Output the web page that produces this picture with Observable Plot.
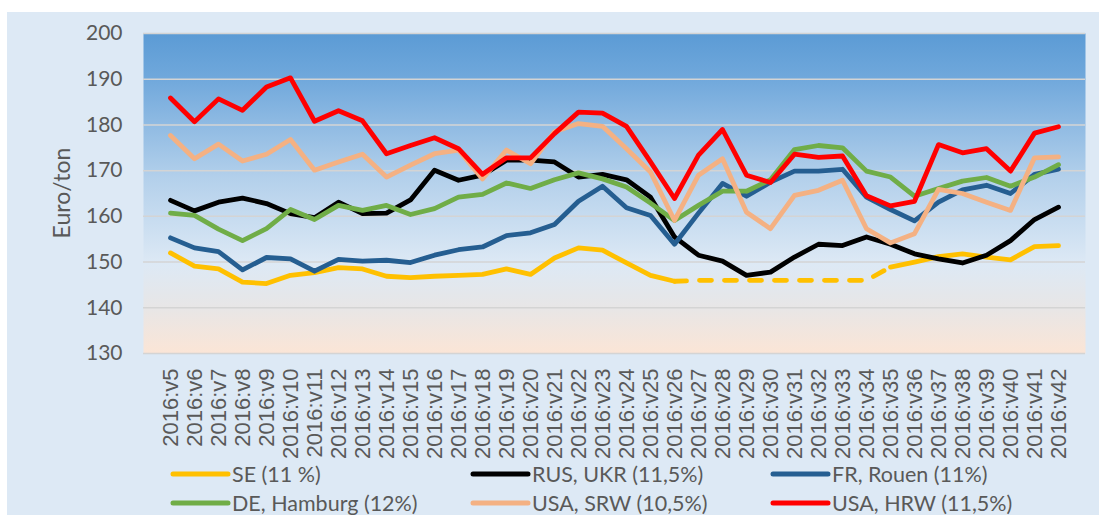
<!DOCTYPE html>
<html><head><meta charset="utf-8">
<script src="https://cdn.jsdelivr.net/npm/d3@7"></script>
<script src="https://cdn.jsdelivr.net/npm/@observablehq/plot@0.6"></script>
<style>
html,body{margin:0;padding:0;background:#fff;}
#wrap{position:relative;width:1099px;height:515px;overflow:hidden;}
#panel{position:absolute;left:7px;top:12px;width:1092px;height:503px;background:#dde9f5;}
#chart{position:absolute;left:0;top:0;}
</style></head><body>
<div id="wrap"><div id="panel"></div><div id="chart"></div></div>
<script>
const weeks = ["2016:v5","2016:v6","2016:v7","2016:v8","2016:v9","2016:v10","2016:v11","2016:v12","2016:v13","2016:v14",
"2016:v15","2016:v16","2016:v17","2016:v18","2016:v19","2016:v20","2016:v21","2016:v22","2016:v23","2016:v24",
"2016:v25","2016:v26","2016:v27","2016:v28","2016:v29","2016:v30","2016:v31","2016:v32","2016:v33","2016:v34",
"2016:v35","2016:v36","2016:v37","2016:v38","2016:v39","2016:v40","2016:v41","2016:v42"];
const yTicks = [130,140,150,160,170,180,190,200];
const seriesNames = ["SE (11 %)","RUS, UKR (11,5%)","FR, Rouen (11%)","DE, Hamburg (12%)","USA, SRW (10,5%)","USA, HRW (11,5%)"];

// SE: reported weeks (null where the series is estimated)
const se = [152.0,149.1,148.5,145.6,145.3,147.1,147.7,148.8,148.5,146.9,146.6,146.9,
147.1,147.3,148.5,147.3,150.9,153.1,152.6,149.8,147.1,145.8,
null,null,null,null,null,null,null,null,
148.9,150.0,151.2,151.8,151.1,150.5,153.4,153.6];
// SE estimated values, weeks v27..v34 (dashed)
const seEstimated = [146.0,146.0,146.0,146.0,146.0,146.0,146.0,146.0];
const rus = [163.5,161.2,163.1,164.0,162.8,160.6,159.7,163.1,160.6,160.7,163.6,170.1,
167.9,169.0,172.3,172.3,171.9,168.6,169.2,168.0,164.2,155.5,151.5,150.2,
147.1,147.8,151.1,153.9,153.6,155.5,153.9,151.8,150.7,149.8,151.5,154.7,159.3,162.0];
const fr = [155.3,153.1,152.3,148.3,151.0,150.7,148.0,150.6,150.2,150.4,149.9,151.5,
152.7,153.3,155.8,156.4,158.2,163.3,166.6,161.9,160.2,153.9,160.7,167.2,
164.4,167.5,169.9,169.9,170.3,164.2,161.5,159.0,163.1,165.8,166.8,165.0,169.2,170.3];
const de = [160.7,160.2,157.2,154.7,157.3,161.5,159.3,162.4,161.3,162.4,160.4,161.7,
164.2,164.8,167.3,166.1,168.0,169.5,168.2,166.4,162.9,159.1,162.4,165.5,
165.5,168.0,174.6,175.5,175.0,169.9,168.6,164.4,166.1,167.7,168.5,166.6,168.6,171.3];
const srw = [177.7,172.6,175.8,172.1,173.6,176.8,170.1,171.9,173.6,168.6,171.2,173.7,
174.5,168.2,174.5,171.5,178.5,180.3,179.7,174.8,169.7,159.1,169.0,172.6,
160.9,157.3,164.6,165.7,167.9,157.3,154.2,156.2,165.9,165.0,163.1,161.3,172.8,173.0];
const hrw = [185.9,180.7,185.7,183.2,188.3,190.3,180.8,183.1,180.9,173.7,175.5,177.2,
174.8,169.2,172.8,172.8,178.1,182.8,182.6,179.7,171.9,163.9,173.4,179.0,
169.0,167.4,173.6,172.9,173.2,164.5,162.3,163.3,175.7,173.9,174.8,169.9,178.2,179.6];

const colors = ["#ffc000","#000000","#255e91","#70ad47","#f4b183","#ff0000"];

// dashed SE segment: from last reported week before gap to first after
const estStart = weeks.indexOf("2016:v27");
const seDashed = weeks.map((w, i) => {
  if (i >= estStart && i < estStart + seEstimated.length) return seEstimated[i - estStart];
  if (i === estStart - 1 || i === estStart + seEstimated.length) return se[i];
  return null;
});

const seriesValues = [se, rus, fr, de, srw, hrw];
const lineOpts = (vals, color, extra = {}) => Plot.line(vals, {
  x: (d, i) => weeks[i], y: d => d, stroke: color, strokeWidth: 4.8,
  strokeLinejoin: "round", strokeLinecap: "round", ...extra
});

const marks = [
  Plot.frame({fill: "url(#plotBg)"}),
  Plot.ruleY(yTicks, {stroke: "#d4d4d4", strokeWidth: 1.5}),
  lineOpts(se, colors[0]),
  lineOpts(seDashed, colors[0], {strokeDasharray: "12,13"}),
  ...seriesValues.slice(1).map((v, k) => lineOpts(v, colors[k + 1]))
];

const plot = Plot.plot({
  width: 1099, height: 515,
  marginTop: 33, marginRight: 14, marginBottom: 162, marginLeft: 143,
  style: {background: "transparent", color: "#595959", fontFamily: "Lato, sans-serif", fontSize: "20px", overflow: "visible"},
  x: {type: "point", domain: weeks, padding: 0.5, tickRotate: -90, tickSize: 0, tickPadding: 15, label: null},
  y: {domain: [130, 200], ticks: yTicks, tickSize: 0, tickPadding: 21, label: null},
  marks
});
document.getElementById("chart").appendChild(plot);

const svg = d3.select(plot);
const defs = svg.insert("defs", ":first-child");
const g = defs.append("linearGradient").attr("id", "plotBg").attr("x1", 0).attr("y1", 0).attr("x2", 0).attr("y2", 1);
[[0, "#5b9bd5"], [0.15, "#72a9dc"], [0.45, "#b3d0eb"], [0.72, "#dde9f5"], [0.86, "#e8e6e6"], [1, "#fbe5d6"]]
  .forEach(([o, c]) => g.append("stop").attr("offset", o).attr("stop-color", c));

svg.selectAll('[aria-label^="x-axis"] text').style("font-family", "'Liberation Sans', Arial, sans-serif").style("font-size", "22px");
svg.selectAll('[aria-label^="y-axis"] text').style("font-family", "Lato, sans-serif").style("font-size", "21px");

// y-axis title
svg.append("text").attr("transform", "translate(61,193) rotate(-90)")
  .attr("text-anchor", "middle").attr("dominant-baseline", "central")
  .attr("fill", "#595959").style("font-family", "Lato, sans-serif").style("font-size", "23px").text("Euro/ton");

// legend
const colX = [173, 473, 773], rowY = [474, 503];
const leg = svg.append("g").attr("aria-label", "legend").attr("text-anchor", "start");
seriesNames.forEach((name, k) => {
  const x = colX[k % 3], y = rowY[Math.floor(k / 3)];
  leg.append("line").attr("x1", x).attr("x2", x + 55).attr("y1", y).attr("y2", y)
    .attr("stroke", colors[k]).attr("stroke-width", 5).attr("stroke-linecap", "round");
  leg.append("text").attr("x", x + 59).attr("y", y).attr("dominant-baseline", "central")
    .attr("text-anchor", "start")
    .attr("fill", "#595959").style("font-family", "Lato, sans-serif").style("font-size", "21.5px").text(name);
});
</script>
</body></html>
